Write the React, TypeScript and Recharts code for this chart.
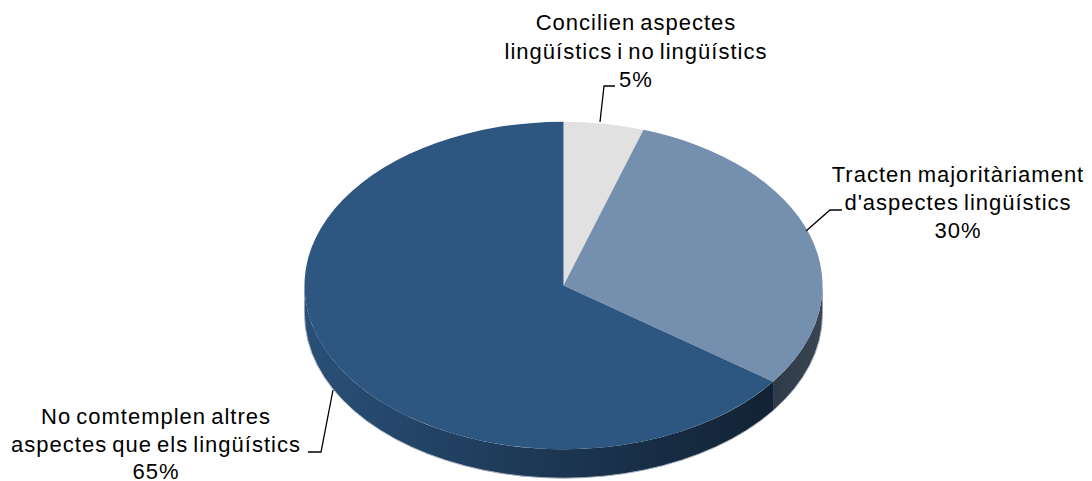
import { PieChart, Pie, Cell } from "recharts";

const SLICE_NAMES = [
  "Concilien aspectes lingüístics i no lingüístics",
  "Tracten majoritàriament d'aspectes lingüístics",
  "No comtemplen altres aspectes que els lingüístics",
];
const SLICE_VALUES = [5, 30, 65];
const LABEL_LINES = [
  ["Concilien aspectes", "lingüístics i no lingüístics", "5%"],
  ["Tracten majoritàriament", "d'aspectes lingüístics", "30%"],
  ["No comtemplen altres", "aspectes que els lingüístics", "65%"],
];

const TOP_COLORS = ["#e1e1e1", "#7590ae", "#2d5681"];
const SIDE_FILLS = ["#b4b4b4", "url(#sideMid)", "url(#sideDark)"];

// label blocks and their leader lines sit where the original placed them by hand
const LABEL_CENTER_X = [636, 958, 156];
const LABEL_BASELINE_Y = [30, 182, 424];
const LABEL_LINE_GAP = [28.5, 28, 27.5];
const LEADERS = [
  "600,122 604,86 615,86",
  "806,231 830,210 842,210",
  "333,390 321,452 308,452",
];

const CX = 563.5;
const CY = 285.5;
const RX = 259;
const TILT = 0.632; // ry / rx
const DEPTH = 29;

const data = SLICE_NAMES.map((name, i) => ({ name, value: SLICE_VALUES[i] }));

function pt(cx: number, cy: number, r: number, deg: number) {
  const a = (deg * Math.PI) / 180;
  return [cx + r * Math.cos(a), cy - r * TILT * Math.sin(a)];
}

// recharts only knows circles, so squash each sector into the tilted ellipse
const TopSlice = (props: any) => {
  const { cx, cy, outerRadius: r, startAngle, endAngle, fill } = props;
  const [x0, y0] = pt(cx, cy, r, startAngle);
  const [x1, y1] = pt(cx, cy, r, endAngle);
  const large = Math.abs(startAngle - endAngle) > 180 ? 1 : 0;
  return (
    <path
      d={`M${cx},${cy} L${x0},${y0} A${r},${r * TILT} 0 ${large} 1 ${x1},${y1} Z`}
      fill={fill}
    />
  );
};

const SideSlice = (props: any) => {
  const { cx, cy, outerRadius: r, startAngle, endAngle, fill } = props;
  const hi = Math.min(startAngle, 0);
  const lo = Math.max(endAngle, -180);
  if (hi <= lo) return null;
  const [x0, y0] = pt(cx, cy, r, hi);
  const [x1, y1] = pt(cx, cy, r, lo);
  const ry = r * TILT;
  return (
    <g>
      <path
        d={`M${x0},${y0} A${r},${ry} 0 0 1 ${x1},${y1} L${x1},${y1 + DEPTH} A${r},${ry} 0 0 0 ${x0},${y0 + DEPTH} Z`}
        fill={fill}
      />
      {/* pale rim along the lower edge */}
      <path
        d={`M${x1},${y1 + DEPTH} A${r},${ry} 0 0 0 ${x0},${y0 + DEPTH}`}
        fill="none"
        stroke="#aab4bf"
        strokeWidth={1}
      />
    </g>
  );
};

const SliceLabel = (props: any) => {
  const i = props.index;
  return (
    <g>
      <polyline points={LEADERS[i]} fill="none" stroke="#000" strokeWidth={1.3} />
      <text
        x={LABEL_CENTER_X[i]}
        y={LABEL_BASELINE_Y[i]}
        textAnchor="middle"
        fill="#000"
        fontFamily="'Liberation Sans', Arial, sans-serif"
        fontSize={22}
        letterSpacing={1}
        wordSpacing={-2}
      >
        {LABEL_LINES[i].map((line, k) => (
          <tspan key={k} x={LABEL_CENTER_X[i]} dy={k === 0 ? 0 : LABEL_LINE_GAP[i]}>
            {line}
          </tspan>
        ))}
      </text>
    </g>
  );
};

export default function App() {
  return (
    <div style={{ position: "absolute", left: 0, top: 0, width: 1092, height: 481, background: "#fff" }}>
      <PieChart width={1092} height={481} margin={{ top: 0, right: 0, bottom: 0, left: 0 }}>
        <defs>
          <linearGradient id="sideDark" x1="0" y1="0" x2="1" y2="0">
            <stop offset="0%" stopColor="#2a5078" />
            <stop offset="45%" stopColor="#1e3a58" />
            <stop offset="100%" stopColor="#122234" />
          </linearGradient>
          <linearGradient id="sideMid" x1="0" y1="0" x2="1" y2="0">
            <stop offset="0%" stopColor="#2e3a48" />
            <stop offset="100%" stopColor="#3a4552" />
          </linearGradient>
        </defs>
        <Pie
          data={data}
          dataKey="value"
          nameKey="name"
          cx={CX}
          cy={CY}
          outerRadius={RX}
          startAngle={90}
          endAngle={-270}
          stroke="none"
          shape={SideSlice}
          isAnimationActive={false}
        >
          {data.map((d, i) => (
            <Cell key={d.name} fill={SIDE_FILLS[i]} />
          ))}
        </Pie>
        <Pie
          data={data}
          dataKey="value"
          nameKey="name"
          cx={CX}
          cy={CY}
          outerRadius={RX}
          startAngle={90}
          endAngle={-270}
          stroke="none"
          shape={TopSlice}
          label={SliceLabel}
          labelLine={false}
          isAnimationActive={false}
        >
          {data.map((d, i) => (
            <Cell key={d.name} fill={TOP_COLORS[i]} />
          ))}
        </Pie>
      </PieChart>
    </div>
  );
}
